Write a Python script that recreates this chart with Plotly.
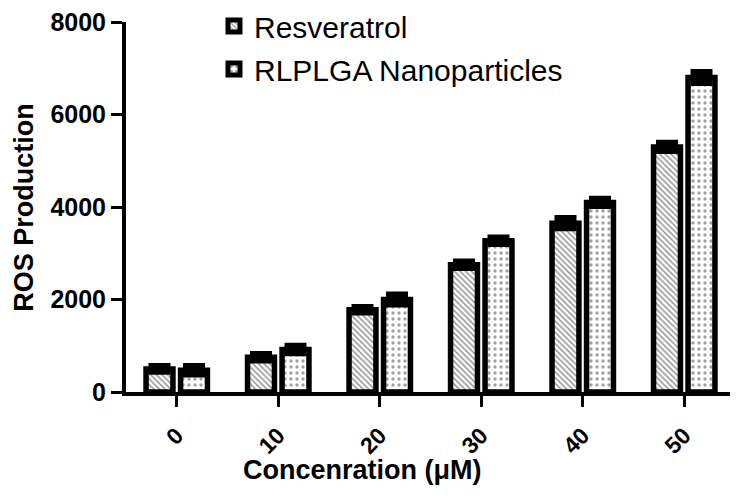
import plotly.graph_objects as go

categories = ["0", "10", "20", "30", "40", "50"]
resveratrol = [500, 750, 1780, 2750, 3650, 5300]
resveratrol_err = [60, 70, 60, 70, 110, 90]
nanoparticles = [470, 920, 2000, 3270, 4100, 6800]
nano_err = [90, 80, 110, 70, 80, 120]
y_ticks = [0, 2000, 4000, 6000, 8000]
x_title = "Concenration (μM)"
y_title = "ROS Production"

FONT = "Liberation Sans, Arial, sans-serif"

fig = go.Figure()
fig.add_trace(go.Bar(
    x=categories, y=resveratrol, name="Resveratrol", legendgroup="a",
    marker=dict(color="white", line=dict(color="black", width=5.5),
                pattern=dict(shape="\\", fgcolor="#333", bgcolor="white", size=4, solidity=0.4)),
    error_y=dict(type="data", array=resveratrol_err, color="black", thickness=6, width=11),
))
fig.add_trace(go.Bar(
    x=categories, y=nanoparticles, name="RLPLGA Nanoparticles", legendgroup="b",
    marker=dict(color="white", line=dict(color="black", width=5.5),
                pattern=dict(shape=".", fgcolor="#444", bgcolor="white", size=6, solidity=0.25)),
    error_y=dict(type="data", array=nano_err, color="black", thickness=6, width=11),
))

fig.update_layout(
    width=738, height=500,
    margin=dict(l=118, r=11, t=14, b=116, autoexpand=False),
    paper_bgcolor="white", plot_bgcolor="white",
    barmode="group", bargap=0.32, bargroupgap=0.22,
    font=dict(family=FONT, color="black"),
    showlegend=True,
    legend=dict(x=0.1445, y=1.0595, xanchor="left", yanchor="top",
                font=dict(size=30, family=FONT), tracegroupgap=1,
                bgcolor="rgba(0,0,0,0)"),
    annotations=[
        dict(text=x_title, xref="paper", yref="paper", x=0.389, y=-0.211,
             xanchor="center", yanchor="middle", showarrow=False,
             font=dict(size=27, family=FONT, weight="bold")),
        dict(text=y_title, xref="paper", yref="paper", x=-0.168, y=0.5,
             xanchor="center", yanchor="middle", showarrow=False, textangle=-90,
             font=dict(size=27, family=FONT, weight="bold")),
    ],
)
fig.update_xaxes(
    type="category", range=[-0.5, 5.5], automargin=False,
    showline=True, linecolor="black", linewidth=4,
    ticks="outside", ticklen=11, tickwidth=3, tickcolor="black",
    tickangle=-45, tickfont=dict(size=23, family=FONT, weight="bold"),
    ticklabelstandoff=6, ticklabeloverflow="allow",
    showgrid=False,
)
fig.update_yaxes(
    range=[0, 8000], tickvals=y_ticks, automargin=False,
    showline=True, linecolor="black", linewidth=4,
    ticks="outside", ticklen=11, tickwidth=3, tickcolor="black",
    tickfont=dict(size=25, family=FONT, weight="bold"),
    ticklabeloverflow="allow",
    showgrid=False, zeroline=False,
)

fig.write_html("out.html")
